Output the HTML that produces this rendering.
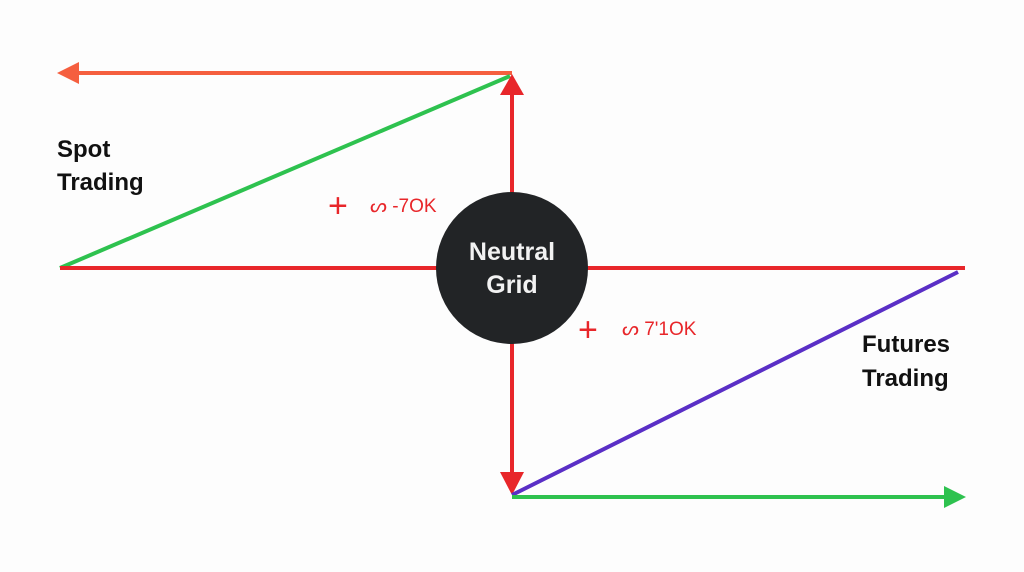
<!DOCTYPE html>
<html><head><style>
body{margin:0;background:#fff;width:1024px;height:572px;overflow:hidden}
svg{display:block}
text{font-family:"Liberation Sans","DejaVu Sans",sans-serif}
</style></head><body>
<svg width="1024" height="572" viewBox="0 0 1024 572">
<rect width="1024" height="572" fill="#fdfdfd"/>
<line x1="72" y1="73" x2="512" y2="73" stroke="#f55f3f" stroke-width="4"/>
<polygon points="57,73 79,62 79,84" fill="#f55f3f"/>
<line x1="60" y1="268" x2="510" y2="76" stroke="#2ec24f" stroke-width="4"/>
<line x1="60" y1="268" x2="965" y2="268" stroke="#e8262a" stroke-width="4"/>
<line x1="512" y1="90" x2="512" y2="478" stroke="#e8262a" stroke-width="4"/>
<polygon points="512,74 500,95 524,95" fill="#e8262a"/>
<polygon points="512,495 500,472 524,472" fill="#e8262a"/>
<line x1="512" y1="495" x2="958" y2="272" stroke="#5a2fc6" stroke-width="4"/>
<line x1="512" y1="497" x2="950" y2="497" stroke="#2ec24f" stroke-width="4"/>
<polygon points="966,497 944,486 944,508" fill="#2ec24f"/>
<circle cx="512" cy="268" r="76" fill="#222426"/>
<text x="512" y="260" fill="#f2f2f2" font-size="25" font-weight="bold" text-anchor="middle">Neutral</text>
<text x="512" y="293" fill="#f2f2f2" font-size="25" font-weight="bold" text-anchor="middle">Grid</text>
<text x="57" y="157" font-size="24" font-weight="bold" fill="#111">Spot</text>
<text x="57" y="190" font-size="24" font-weight="bold" fill="#111">Trading</text>
<text x="862" y="352" font-size="24" font-weight="bold" fill="#111">Futures</text>
<text x="862" y="386" font-size="24" font-weight="bold" fill="#111">Trading</text>
<text x="328" y="217" font-size="34" fill="#e8262a">+</text>
<text x="370" y="212" font-size="19" fill="#e8262a">ᔕ -7OK</text>
<text x="578" y="341" font-size="34" fill="#e8262a">+</text>
<text x="622" y="335" font-size="19" fill="#e8262a">ᔕ 7'1OK</text>
</svg>
</body></html>
